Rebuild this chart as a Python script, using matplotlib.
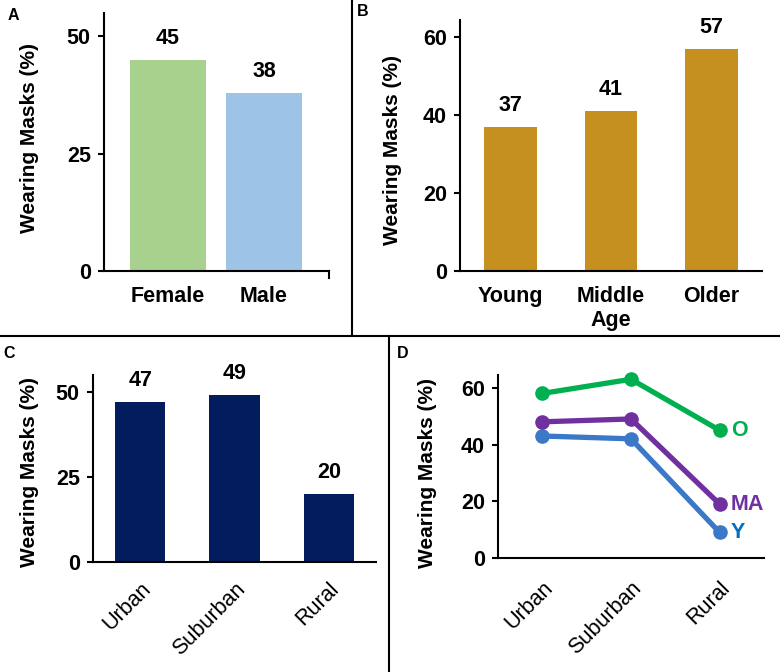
import matplotlib.pyplot as plt
from matplotlib.lines import Line2D

plt.rcParams['font.family'] = ['Liberation Sans', 'DejaVu Sans']
plt.rcParams['font.weight'] = 'bold'

# Panel A - gender
gender = ['Female', 'Male']
gender_vals = [45, 38]
gender_colors = ['#A9D18E', '#9DC3E6']

# Panel B - age
age = ['Young', 'Middle\nAge', 'Older']
age_vals = [37, 41, 57]

# Panel C - location
location = ['Urban', 'Suburban', 'Rural']
location_vals = [47, 49, 20]

# Panel D - location by age group
young_vals = [43, 42, 9]
middle_vals = [48, 49, 19]
older_vals = [58, 63, 45]

W, H = 780, 672
FS = 15.5
fig = plt.figure(figsize=(W / 100, H / 100), dpi=100)


def add_ax(left, top, right, bottom):
    return fig.add_axes([left / W, 1 - bottom / H, (right - left) / W, (bottom - top) / H])


def style(ax, yticks, ylim, xlim):
    for s in ['top', 'right']:
        ax.spines[s].set_visible(False)
    for s in ['left', 'bottom']:
        ax.spines[s].set_linewidth(1.5)
    ax.set_ylim(*ylim)
    ax.set_xlim(*xlim)
    ax.set_yticks(yticks)
    ax.tick_params(axis='y', length=4.5, width=1.5, labelsize=FS, pad=5)
    ax.tick_params(axis='x', length=0, labelsize=FS, pad=11)


def ylabel(x, y):
    fig.text(x / W, 1 - y / H, 'Wearing Masks (%)', rotation=90, ha='center', va='center',
             fontsize=15, fontweight='bold')


def panel_label(t, x, y):
    fig.text(x / W, 1 - y / H, t, ha='center', va='center', fontsize=11.5, fontweight='bold')


# A
ax = add_ax(104, 13, 329, 271)
bars = ax.bar(range(len(gender)), gender_vals, width=0.79, color=gender_colors)
ax.bar_label(bars, padding=8, fontsize=FS, fontweight='bold')
ax.set_xticks(range(len(gender)), gender)
style(ax, [0, 25, 50], (0, 55), (-0.667, 1.677))
ax.plot([1.677, 1.677], [0, -1.5], color='black', lw=1.5, clip_on=False)
ylabel(30, 138)
panel_label('A', 13, 15)

# B
ax = add_ax(460, 20, 762, 271)
bars = ax.bar(range(len(age)), age_vals, width=0.52, color='#C5901F')
ax.bar_label(bars, padding=8, fontsize=FS, fontweight='bold')
ax.set_xticks(range(len(age)), age)
style(ax, [0, 20, 40, 60], (0, 64.4), (-0.5, 2.5))
ylabel(392, 150)
panel_label('B', 363, 12)

# C
ax = add_ax(93, 375, 376, 562)
bars = ax.bar(range(len(location)), location_vals, width=0.535, color='#021C5E')
ax.bar_label(bars, padding=8, fontsize=FS, fontweight='bold')
style(ax, [0, 25, 50], (0, 55), (-0.5, 2.5))
ax.set_xticks(range(len(location)), location, rotation=45, ha='right', rotation_mode='anchor',
              fontweight='normal')
ax.tick_params(axis='x', pad=12)
ylabel(30, 472)
panel_label('C', 9, 353)

# D
ax = add_ax(498, 375, 764, 558)
series = [(young_vals, '#3C78C8', '#0070C0', 'Y'),
          (middle_vals, '#7030A0', '#7030A0', 'MA'),
          (older_vals, '#00B050', '#00B050', 'O')]
x = range(len(location))
for vals, c, tc, name in series:
    ax.plot(x, vals, color=c, lw=3.8, marker='o', markersize=9.5, clip_on=False)
    ax.annotate(name, (x[-1], vals[-1]), xytext=(8, 0), textcoords='offset points',
                ha='left', va='center', color=tc, fontsize=FS, fontweight='bold')
style(ax, [0, 20, 40, 60], (0, 64.5), (-0.5, 2.5))
ax.set_xticks(range(len(location)), location, rotation=45, ha='right', rotation_mode='anchor',
              fontweight='normal')
ax.tick_params(axis='x', pad=14)
ylabel(427, 473)
panel_label('D', 403, 353)

# panel borders
fig.add_artist(Line2D([352 / W, 352 / W], [1, 1 - 336 / H], color='black', lw=1.5))
fig.add_artist(Line2D([0, 1], [1 - 336 / H, 1 - 336 / H], color='black', lw=1.5))
fig.add_artist(Line2D([389 / W, 389 / W], [1 - 336 / H, 0], color='black', lw=1.5))

fig.savefig('out.png', dpi=100)
